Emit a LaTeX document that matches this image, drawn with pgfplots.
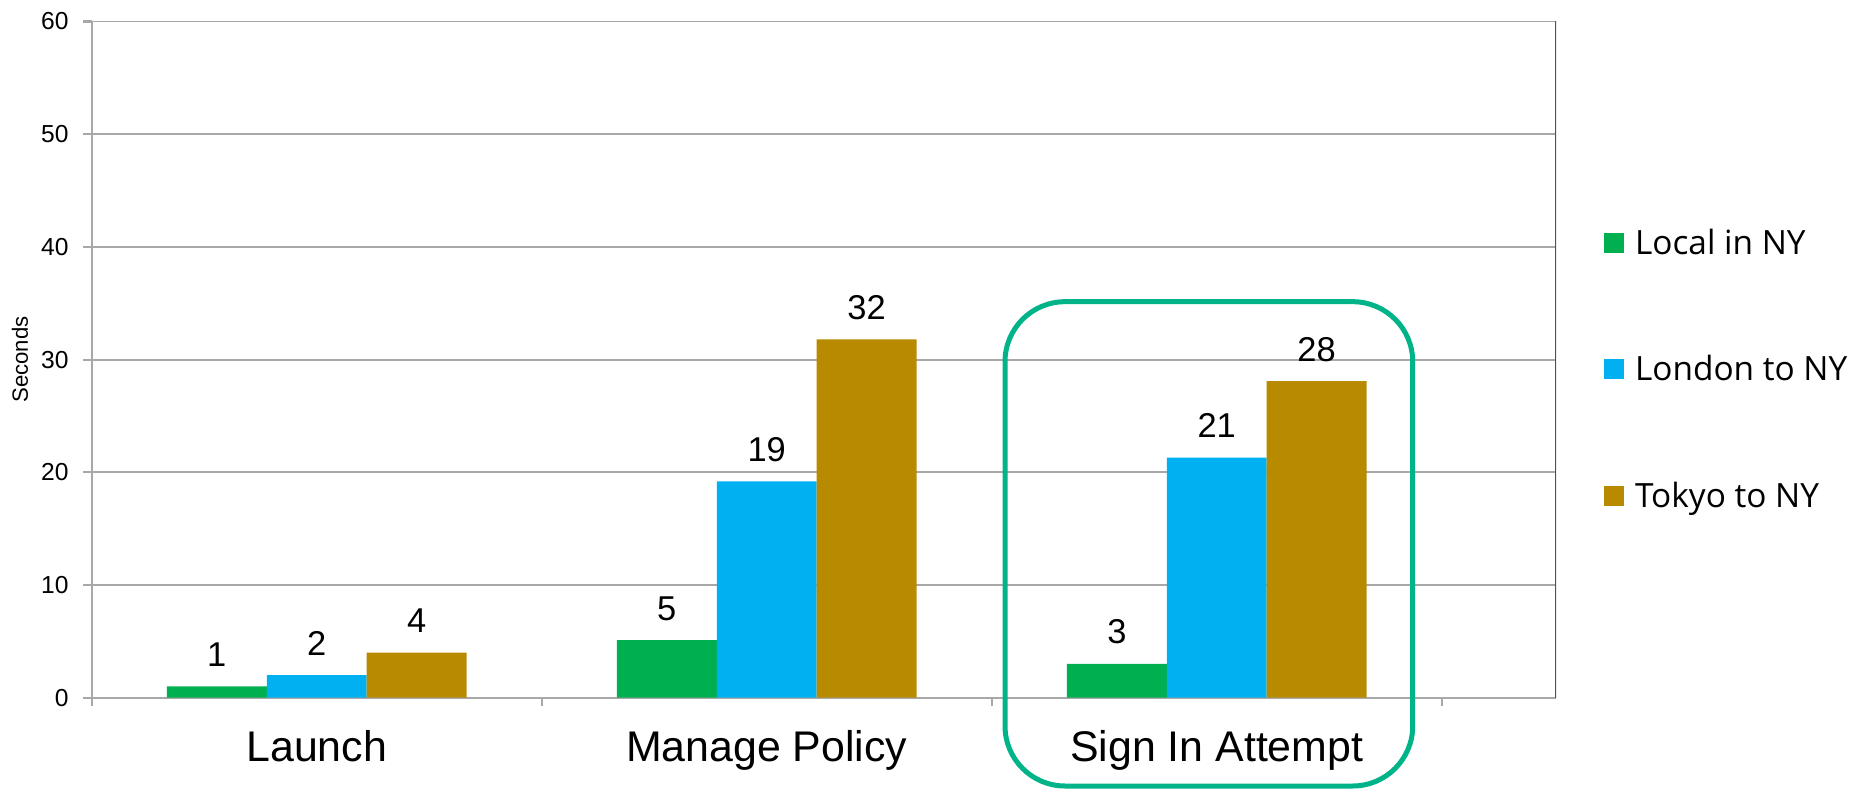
\documentclass[border=0pt]{standalone}
\usepackage{pgfplots}
\pgfplotsset{compat=1.18}
\usepackage{fontspec}
\setmainfont{Liberation Sans}
\newfontfamily\legendfont{Open Sans}

\definecolor{localgreen}{HTML}{00B050}
\definecolor{londonblue}{HTML}{00B0F0}
\definecolor{tokyogold}{HTML}{B88A00}
\definecolor{gridgray}{HTML}{A8A8A8}
\definecolor{bordercol}{HTML}{44546A}
\definecolor{boxgreen}{HTML}{00B388}

\begin{document}
\begin{tikzpicture}
\useasboundingbox (-0.917,-0.963) rectangle (17.713,6.977);
\begin{axis}[
    at={(0,0)}, anchor=south west,
    scale only axis,
    width=14.643cm, height=6.762cm,
    xmin=-0.5, xmax=2.754,
    ymin=0, ymax=60,
    ybar=0pt, bar width=0.222,
    axis x line*=bottom, axis y line*=left,
    axis line style={draw=gridgray, line width=0.6pt, -},
    ytick={0,10,...,60},
    ymajorgrids,
    grid style={gridgray, line width=0.55pt},
    xtick={-0.5,0.5,1.5,2.5},
    xticklabels={Launch, Manage Policy, Sign In Attempt, {}},
    tick align=outside,
    major tick length=0.085cm,
    tick style={draw=gridgray, line width=0.6pt},
    xticklabel style={anchor=base, xshift=2.25cm, yshift=-0.55cm,
        font=\fontsize{12.2}{14}\selectfont},
    yticklabel style={anchor=east, inner sep=0pt, xshift=-0.14cm,
        font=\fontsize{7}{8}\selectfont},
    /pgf/number format/assume math mode=true,
    nodes near coords={\pgfmathprintnumber[fixed,precision=0]{\pgfplotspointmeta}},
    every node near coord/.append style={anchor=base, yshift=0.2cm,
        font=\fontsize{9.8}{11}\selectfont, text=black},
    legend style={at={(1.0328,0.486)}, anchor=west, draw=none, fill=none,
        inner sep=0pt, outer sep=0pt, row sep=1.027cm, column sep=0.11cm,
        font=\legendfont\fontsize{9.5}{11}\selectfont,
        nodes={inner sep=0pt, text height=0.238cm, text depth=0cm}},
    legend cell align=left,
    legend image code/.code={\fill[#1] (0cm,-0.1cm) rectangle (0.2cm,0.1cm);},
]
\addplot[fill=localgreen, draw=none] coordinates {(0,1.0) (1,5.1) (2,3.0)};
\addlegendentry{Local in NY}
\addplot[fill=londonblue, draw=none] coordinates {(0,2.0) (1,19.2) (2,21.3)};
\addlegendentry{London to NY}
\addplot[fill=tokyogold, draw=none] coordinates {(0,4.0) (1,31.8) (2,28.1)};
\addlegendentry{Tokyo to NY}
\draw[bordercol, line width=0.6pt] (rel axis cs:1,0) -- ([yshift=0.07cm]rel axis cs:1,1);
\end{axis}
\node[rotate=90, font=\fontsize{6.3}{7}\selectfont] at (-0.717,3.381) {Seconds};
\draw[boxgreen, line width=0.05cm, rounded corners=0.6cm] (9.133,-0.883) rectangle (13.21,3.96);
\end{tikzpicture}
\end{document}
